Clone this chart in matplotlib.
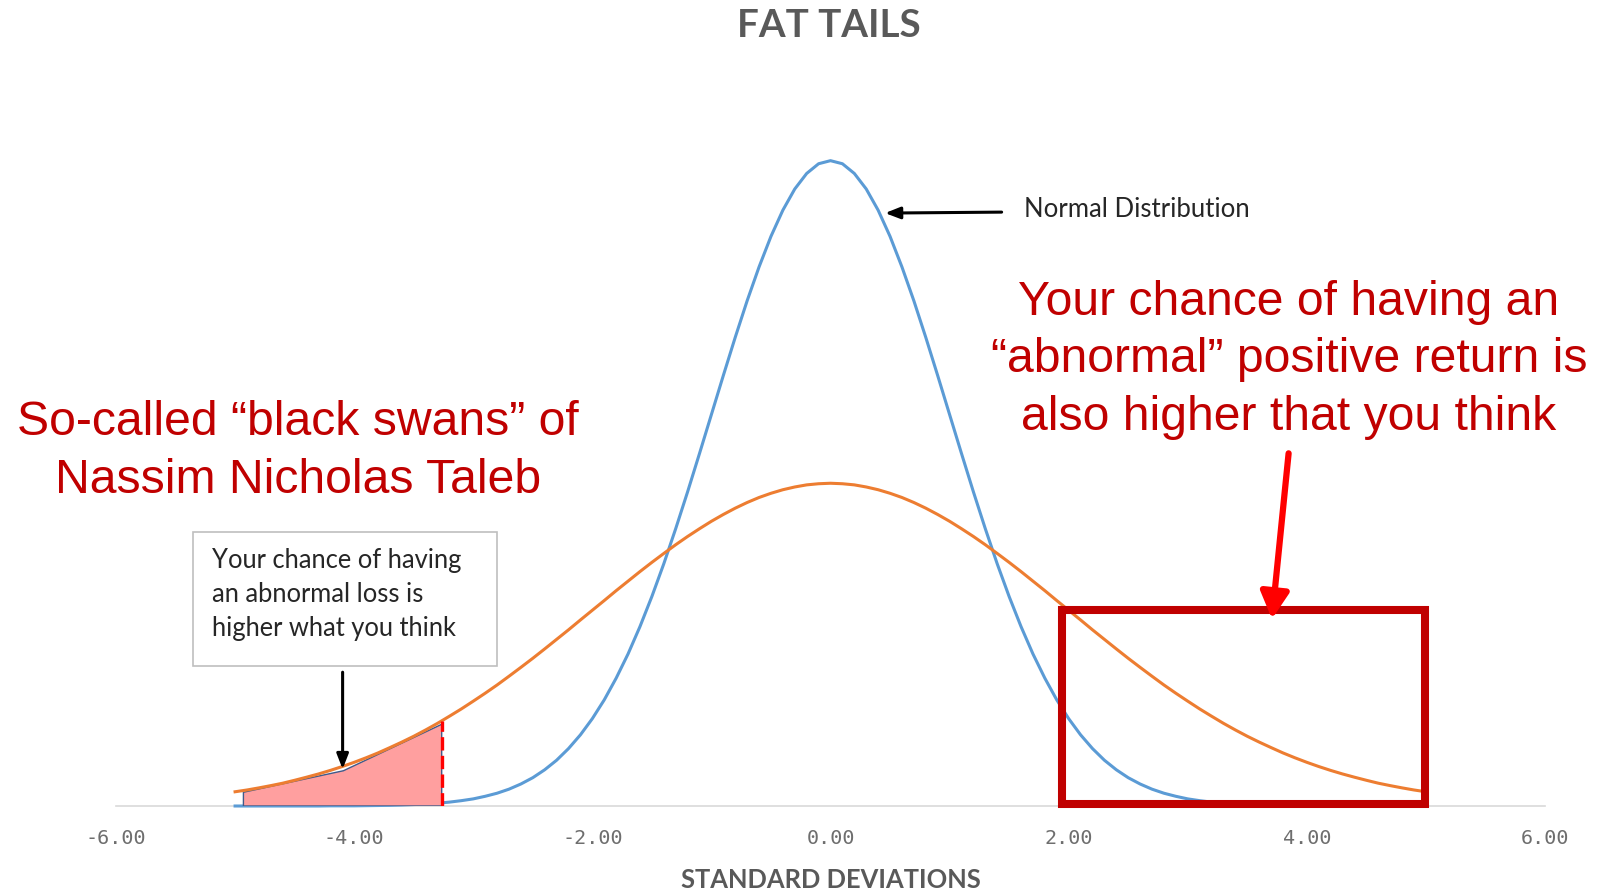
import numpy as np
import matplotlib
matplotlib.use("Agg")
import matplotlib.pyplot as plt
from matplotlib.patches import Rectangle

# x grid of the two curves (standard deviations)
x_sd = np.round(np.linspace(-5.0, 5.0, 101), 1)

# normal distribution (narrow, blue)
normal_y = [
    0.0000, 0.0000, 0.0000, 0.0000, 0.0000, 0.0000, 0.0000, 0.0000, 0.0001, 0.0001,
    0.0001, 0.0002, 0.0003, 0.0004, 0.0006, 0.0009, 0.0012, 0.0017, 0.0024, 0.0033,
    0.0044, 0.0060, 0.0079, 0.0104, 0.0136, 0.0175, 0.0224, 0.0283, 0.0355, 0.0440,
    0.0540, 0.0656, 0.0790, 0.0940, 0.1109, 0.1295, 0.1497, 0.1714, 0.1942, 0.2179,
    0.2420, 0.2661, 0.2897, 0.3123, 0.3332, 0.3521, 0.3683, 0.3814, 0.3910, 0.3970,
    0.3989,
    0.3970, 0.3910, 0.3814, 0.3683, 0.3521, 0.3332, 0.3123, 0.2897, 0.2661, 0.2420,
    0.2179, 0.1942, 0.1714, 0.1497, 0.1295, 0.1109, 0.0940, 0.0790, 0.0656, 0.0540,
    0.0440, 0.0355, 0.0283, 0.0224, 0.0175, 0.0136, 0.0104, 0.0079, 0.0060, 0.0044,
    0.0033, 0.0024, 0.0017, 0.0012, 0.0009, 0.0006, 0.0004, 0.0003, 0.0002, 0.0001,
    0.0001, 0.0001, 0.0000, 0.0000, 0.0000, 0.0000, 0.0000, 0.0000, 0.0000, 0.0000,
]

# fat tailed distribution (wide, orange)
fat_y = [
    0.0088, 0.0099, 0.0112, 0.0126, 0.0141, 0.0159, 0.0178, 0.0198, 0.0220, 0.0244,
    0.0270, 0.0298, 0.0328, 0.0361, 0.0395, 0.0431, 0.0470, 0.0511, 0.0555, 0.0600,
    0.0648, 0.0697, 0.0748, 0.0802, 0.0857, 0.0913, 0.0971, 0.1030, 0.1089, 0.1150,
    0.1210, 0.1270, 0.1331, 0.1390, 0.1449, 0.1506, 0.1561, 0.1615, 0.1666, 0.1714,
    0.1760, 0.1802, 0.1841, 0.1876, 0.1907, 0.1933, 0.1955, 0.1972, 0.1985, 0.1992,
    0.1995,
    0.1992, 0.1985, 0.1972, 0.1955, 0.1933, 0.1907, 0.1876, 0.1841, 0.1802, 0.1760,
    0.1714, 0.1666, 0.1615, 0.1561, 0.1506, 0.1449, 0.1390, 0.1331, 0.1270, 0.1210,
    0.1150, 0.1089, 0.1030, 0.0971, 0.0913, 0.0857, 0.0802, 0.0748, 0.0697, 0.0648,
    0.0600, 0.0555, 0.0511, 0.0470, 0.0431, 0.0395, 0.0361, 0.0328, 0.0298, 0.0270,
    0.0244, 0.0220, 0.0198, 0.0178, 0.0159, 0.0141, 0.0126, 0.0112, 0.0099, 0.0088,
]

tick_pos = [-6, -4, -2, 0, 2, 4, 6]
tick_labels = ["-6.00", "-4.00", "-2.00", "0.00", "2.00", "4.00", "6.00"]

# shaded left tail (hand drawn shape in the original)
shade_x = [-4.93, -4.93, -4.09, -3.265, -3.265]
shade_y = [0.0, 0.0085, 0.0218, 0.0505, 0.0]
cut_x = -3.265
cut_top = 0.0527

# red box around the right tail
box_x = (1.948, 4.99)
box_y = (0.0012, 0.1212)

red_right = "Your chance of having an\n\u201cabnormal\u201d positive return is\nalso higher that you think"
red_left = "So-called \u201cblack swans\u201d of\nNassim Nicholas Taleb"
loss_note = "Your chance of having\nan abnormal loss is\nhigher what you think"

DARK_RED = "#C00000"
BLUE = "#5B9BD5"
ORANGE = "#ED7D31"

fig = plt.figure(figsize=(16.14, 8.90), dpi=100)
ax = fig.add_axes([116 / 1614, 84 / 890, 1429 / 1614, 728 / 890])
ax.set_xlim(-6, 6)
ax.set_ylim(0, 0.45)

ax.plot(x_sd, normal_y, color=BLUE, lw=2.2, zorder=3, clip_on=False)
ax.fill(shade_x, shade_y, facecolor="#FF9F9F", edgecolor="#3F5A8A", lw=1, zorder=3.5)
ax.plot(x_sd, fat_y, color=ORANGE, lw=2.2, zorder=4, clip_on=False)
ax.plot([cut_x, cut_x], [0, cut_top], color="#FF0000", lw=2.4,
        ls=(0, (4, 1.6)), zorder=5)

ax.add_patch(Rectangle((box_x[0], box_y[0]), box_x[1] - box_x[0], box_y[1] - box_y[0],
                       fill=False, edgecolor=DARK_RED, lw=5.8, joinstyle="miter",
                       zorder=6, clip_on=False))

# axis styling
for side in ["top", "right", "left"]:
    ax.spines[side].set_visible(False)
ax.spines["bottom"].set_color("#D9D9D9")
ax.spines["bottom"].set_linewidth(1.2)
ax.set_yticks([])
ax.set_xticks(tick_pos, tick_labels)
ax.tick_params(axis="x", length=0, pad=16.5, labelsize=14.5, labelcolor="#6E6E6E")
for lab in ax.get_xticklabels():
    lab.set_family("DejaVu Sans Mono")

fig.text(828.6 / 1614, 1 - 26 / 890, "FAT TAILS", ha="center", va="center",
         family="Lato", weight="bold", fontsize=27.7, color="#595959")
fig.text(831 / 1614, 1 - 880 / 890, "STANDARD DEVIATIONS", ha="center", va="center",
         family="Lato", weight="bold", fontsize=18.4, color="#595959")

# annotations
ax.annotate("", xy=(0.458, 0.3665), xytext=(1.437, 0.3671),
            arrowprops=dict(arrowstyle="-|>,head_length=0.9,head_width=0.35",
                            color="black", lw=2.2, mutation_scale=10,
                            shrinkA=0, shrinkB=0), zorder=7)
ax.text(1.625, 0.369, "Normal Distribution", ha="left", va="center",
        family="Lato", fontsize=18.5, color="#262626")

ax.text(3.85, 0.2758, red_right, ha="center", va="center", multialignment="center",
        family="Liberation Sans", fontsize=34.7, color=DARK_RED, linespacing=1.36)
ax.text(-4.473, 0.2192, red_left, ha="center", va="center", multialignment="center",
        family="Liberation Sans", fontsize=34.7, color=DARK_RED, linespacing=1.36)

ax.annotate("", xy=(3.707, 0.1156), xytext=(3.847, 0.218),
            arrowprops=dict(arrowstyle="-|>,head_length=0.8,head_width=0.43",
                            color="#FF0000", lw=4.5, mutation_scale=20,
                            shrinkA=0, shrinkB=0), zorder=7)

ax.add_patch(Rectangle((-5.357, 0.0865), 2.557, 0.0828, facecolor="white",
                       edgecolor="#BFBFBF", lw=1.2, zorder=6))
ax.text(-5.198, 0.1305, loss_note, ha="left", va="center", family="Lato",
        fontsize=18.4, color="#262626", linespacing=1.45, zorder=7)
ax.annotate("", xy=(-4.097, 0.0228), xytext=(-4.097, 0.0827),
            arrowprops=dict(arrowstyle="-|>,head_length=0.9,head_width=0.35",
                            color="black", lw=2.2, mutation_scale=10,
                            shrinkA=0, shrinkB=0), zorder=7)

fig.savefig("out.png", dpi=100, facecolor="white")
